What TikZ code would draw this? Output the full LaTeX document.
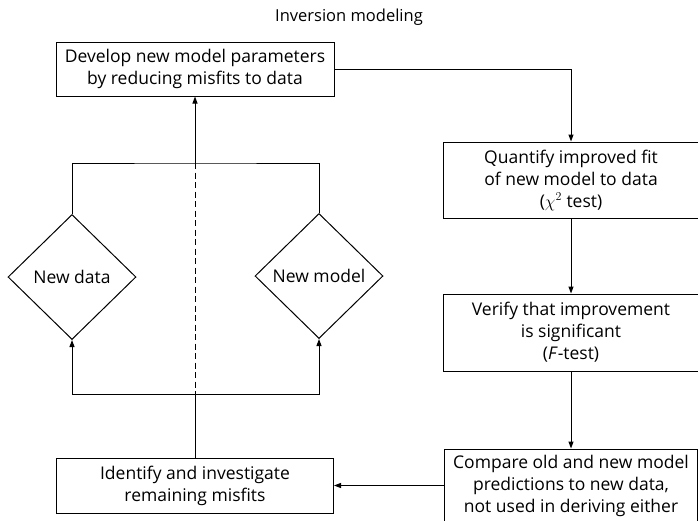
\documentclass[tikz,border=0pt]{standalone}
\usepackage{amsmath}
\usepackage{fontspec}
\setmainfont{Open Sans}
\usepackage{tikz}
\usetikzlibrary{arrows.meta,positioning,shapes.geometric}

\begin{document}
\begin{tikzpicture}[
  x=1pt, y=-1pt,
  font=\fontsize{17.5}{22}\selectfont,
  box/.style={draw, rectangle, align=center, line width=1pt, inner sep=0pt},
  choice/.style={draw, diamond, align=center, line width=1pt, inner sep=0pt, minimum width=128pt, minimum height=125pt},
  arrow/.style={-{Triangle[length=7pt,width=5pt]}, line width=1pt},
  link/.style={line width=1pt}
]
\useasboundingbox (0,0) rectangle (698,520);
\node (title) [font=\fontsize{16.5}{20}\selectfont] at (349,17) {Inversion modeling};
\node (dev) [box, minimum width=278pt, minimum height=54pt] at (195,69) {Develop new model parameters\\by reducing misfits to data};
\node (fit) [box, minimum width=255pt, minimum height=76pt] at (571,180) {Quantify improved fit\\of new model to data\\($\chi^2$ test)};
\node (sig) [box, minimum width=255pt, minimum height=77pt, below=75pt of fit] {Verify that improvement\\is significant\\(\textit{F}-test)};
\node (cmp) [box, minimum width=253pt, minimum height=74pt, below=77pt of sig] {Compare old and new model\\predictions to new data,\\not used in deriving either};
\node (idf) [box, minimum width=277pt, minimum height=55pt] at (195,485.5) {Identify and investigate\\remaining misfits};
\node (ndata) [choice] at (72,277) {New data};
\node (nmodel) [choice] at (319,276) {New model};
\coordinate (hi) at (195,163);
\coordinate (lo) at (195,394);

\draw[arrow] (dev.east) -| (fit.north);
\draw[arrow] (fit) -- (sig);
\draw[arrow] (sig) -- (cmp);
\draw[arrow] (cmp.west |- idf.east) -- (idf.east);
\draw[link] (idf.north) -- (lo);
\draw[arrow] (lo) -| (ndata.south);
\draw[arrow] (lo) -| (nmodel.south);
\draw[link] (ndata.north) |- (hi) -| (nmodel.north);
\draw[arrow] (hi) -- (dev.south);
\draw[link, dash pattern=on 6pt off 3.5pt] (hi) -- (lo);
\end{tikzpicture}
\end{document}
